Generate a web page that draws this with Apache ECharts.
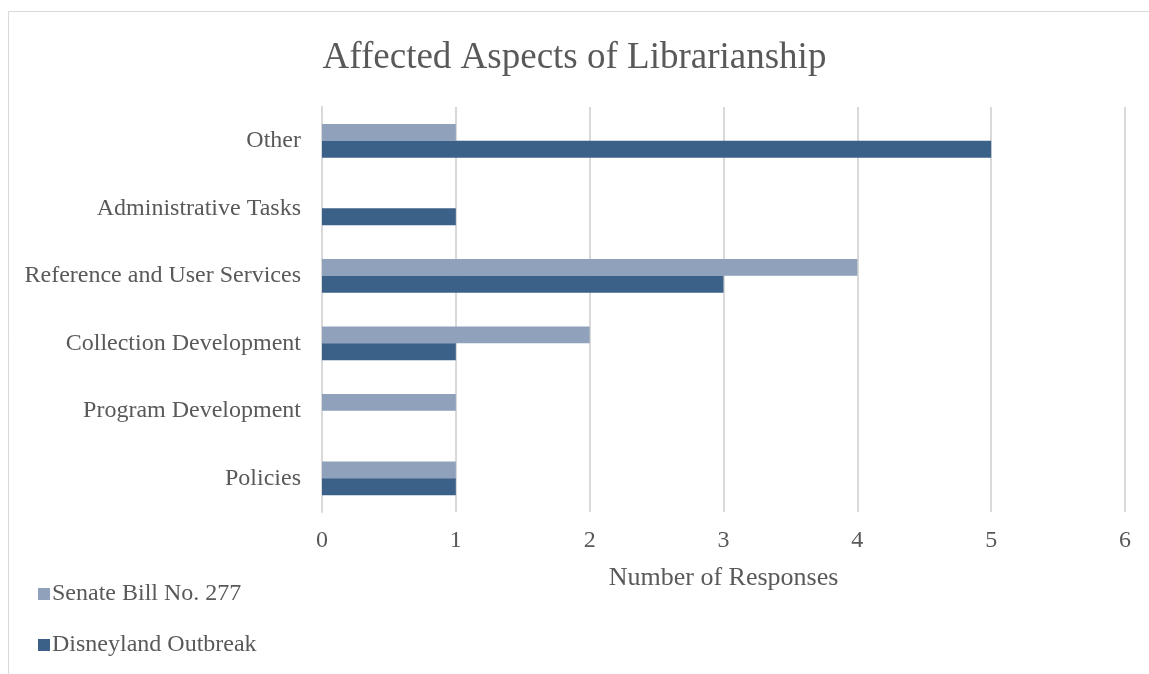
<!DOCTYPE html>
<html>
<head>
<meta charset="utf-8">
<script src="https://cdn.jsdelivr.net/npm/echarts@6/dist/echarts.min.js"></script>
<style>
  html, body { margin: 0; padding: 0; background: #fff; }
  #chart { width: 1149px; height: 674px; }
</style>
</head>
<body>
<div id="chart"></div>
<script>
// Categories listed bottom to top (category axis starts at the bottom)
const categories = [
  'Policies',
  'Program Development',
  'Collection Development',
  'Reference and User Services',
  'Administrative Tasks',
  'Other'
];
const senateBill = [1, 1, 2, 4, 0, 1];
const disneyland = [1, 0, 1, 3, 1, 5];
const xTicks = [0, 1, 2, 3, 4, 5, 6];

const FONT = '"Liberation Serif", "Times New Roman", serif';
const TEXT = '#595959';

const chart = echarts.init(document.getElementById('chart'));
chart.setOption({
  animation: false,
  backgroundColor: '#fff',
  title: {
    text: 'Affected Aspects of Librarianship',
    left: 'center',
    top: 35,
    textStyle: { fontFamily: FONT, fontSize: 37, fontWeight: 'normal', color: TEXT }
  },
  graphic: [{
    type: 'rect',
    shape: { x: 8.5, y: 11.5, width: 1200, height: 700 },
    style: { fill: 'none', stroke: '#d9d9d9', lineWidth: 1 },
    silent: true
  }],
  legend: {
    orient: 'vertical',
    left: 33,
    top: 577,
    itemGap: 27,
    itemWidth: 12,
    itemHeight: 12,
    icon: 'rect',
    textStyle: { fontFamily: FONT, fontSize: 24, color: TEXT, padding: [0, 0, 0, -3] },
    data: ['Senate Bill No. 277', 'Disneyland Outbreak']
  },
  grid: { left: 322, right: 24, top: 107, bottom: 162, containLabel: false },
  xAxis: {
    type: 'value',
    min: xTicks[0],
    max: xTicks[xTicks.length - 1],
    interval: 1,
    name: 'Number of Responses',
    nameLocation: 'middle',
    nameGap: 53,
    nameTextStyle: { fontFamily: FONT, fontSize: 26, color: TEXT },
    axisLine: { show: false },
    axisTick: { show: false },
    axisLabel: { fontFamily: FONT, fontSize: 24, color: TEXT, margin: 17 },
    splitLine: { show: true, lineStyle: { color: '#d9d9d9', width: 2 } }
  },
  yAxis: {
    type: 'category',
    data: categories,
    axisLine: { show: true, lineStyle: { color: '#d9d9d9', width: 2 } },
    axisTick: { show: false },
    axisLabel: { fontFamily: FONT, fontSize: 24, color: TEXT, margin: 21, padding: [4, 0, 0, 0] }
  },
  series: [
    {
      name: 'Senate Bill No. 277',
      type: 'bar',
      data: senateBill,
      barGap: '0%',
      barCategoryGap: '50%',
      itemStyle: { color: '#8fa1bb' }
    },
    {
      name: 'Disneyland Outbreak',
      type: 'bar',
      data: disneyland,
      barGap: '0%',
      barCategoryGap: '50%',
      itemStyle: { color: '#3b6188' }
    }
  ]
});
</script>
</body>
</html>
